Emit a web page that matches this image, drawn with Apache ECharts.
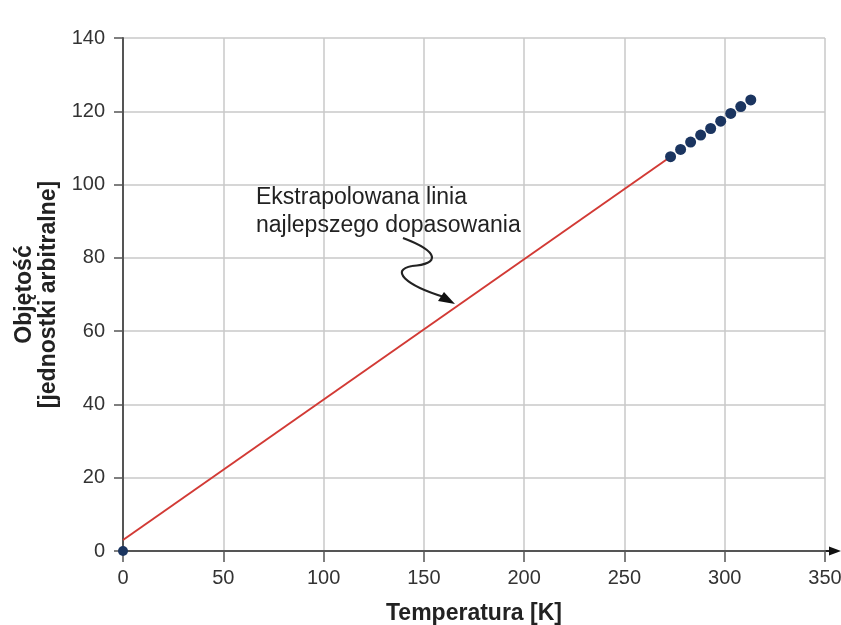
<!DOCTYPE html>
<html>
<head>
<meta charset="utf-8">
<script src="https://cdn.jsdelivr.net/npm/echarts@6/dist/echarts.min.js"></script>
<style>
html, body { margin: 0; padding: 0; background: #fff; }
#chart { width: 841px; height: 625px; }
</style>
</head>
<body>
<div id="chart"></div>
<script>
// measured points (temperature K, volume)
var temps = [273, 278, 283, 288, 293, 298, 303, 308, 313];
var volumes = [107.6, 109.6, 111.6, 113.5, 115.3, 117.3, 119.4, 121.3, 123.1];
// extrapolated fit line end points
var fitLine = [[0, 3], [273, 107.6]];
var origin = [[0, 0]];
var xTicks = [0, 50, 100, 150, 200, 250, 300, 350];
var yTicks = [0, 20, 40, 60, 80, 100, 120, 140];

var font = 'Liberation Sans';
var chart = echarts.init(document.getElementById('chart'));

var pts = [];
for (var i = 0; i < temps.length; i++) {
    pts.push([temps[i], volumes[i]]);
}

var option = {
    animation: false,
    textStyle: { fontFamily: font },
    grid: { left: 123, right: 16, top: 38, bottom: 74, containLabel: false, outerBoundsMode: 'none' },
    xAxis: {
        type: 'value', min: xTicks[0], max: xTicks[xTicks.length - 1], interval: 50,
        name: 'Temperatura [K]', nameLocation: 'middle', nameGap: 51,
        nameTextStyle: { fontSize: 23, fontWeight: 'bold', color: '#222', fontFamily: font },
        axisLine: { show: true, lineStyle: { color: '#555', width: 2 } },
        axisTick: { show: true, length: 11, lineStyle: { color: '#555', width: 1.5 } },
        axisLabel: { fontSize: 20, color: '#333', margin: 17, fontFamily: font },
        splitLine: { show: true, lineStyle: { color: '#c8c8c8', width: 1.5 } }
    },
    yAxis: {
        type: 'value', min: yTicks[0], max: yTicks[yTicks.length - 1], interval: 20,
        name: 'Objętość\n[jednostki arbitralne]', nameLocation: 'middle', nameGap: 62,
        nameRotate: 90,
        nameTextStyle: { fontSize: 23, fontWeight: 'bold', color: '#222', lineHeight: 24, fontFamily: font },
        axisLine: { show: true, lineStyle: { color: '#555', width: 2 } },
        axisTick: { show: true, length: 9, lineStyle: { color: '#555', width: 1.5 } },
        axisLabel: { fontSize: 20, color: '#333', margin: 18, fontFamily: font },
        splitLine: { show: true, lineStyle: { color: '#c8c8c8', width: 1.5 } }
    },
    series: [
        {
            type: 'line', data: fitLine, symbol: 'none',
            lineStyle: { color: '#d23a35', width: 2 }, z: 3
        },
        {
            type: 'scatter', data: pts, symbolSize: 11,
            itemStyle: { color: '#1b3560', opacity: 1 }, z: 4
        },
        {
            type: 'scatter', data: origin, symbolSize: 10,
            itemStyle: { color: '#1b3560', opacity: 1 }, z: 4
        }
    ]
};
chart.setOption(option);

// axis arrows and annotation
var top = chart.convertToPixel({ gridIndex: 0 }, [0, 140]);
var right = chart.convertToPixel({ gridIndex: 0 }, [350, 0]);
var ax = top[0], ay = top[1], bx = right[0], by = right[1];

chart.setOption({
    graphic: [
        { type: 'line', shape: { x1: ax, y1: ay, x2: ax, y2: ay - 16 }, style: { stroke: '#222', lineWidth: 2 } },
        { type: 'polygon', shape: { points: [[ax - 4.5, ay - 14], [ax + 4.5, ay - 14], [ax, ay - 27]] }, style: { fill: '#111' } },
        { type: 'line', shape: { x1: bx, y1: by, x2: bx + 6, y2: by }, style: { stroke: '#222', lineWidth: 2 } },
        { type: 'polygon', shape: { points: [[bx + 4, by - 4.5], [bx + 4, by + 4.5], [bx + 16, by]] }, style: { fill: '#111' } },
        {
            type: 'text', left: 256, top: 184,
            style: { text: 'Ekstrapolowana linia\nnajlepszego dopasowania', fontSize: 23, lineHeight: 28, fill: '#222', fontFamily: font }
        },
        {
            type: 'bezierCurve', shape: { x1: 403, y1: 238, x2: 412, y2: 266, cpx1: 440, cpy1: 252, cpx2: 440, cpy2: 264 },
            style: { stroke: '#222', lineWidth: 2.2, fill: null }
        },
        {
            type: 'bezierCurve', shape: { x1: 412, y1: 266, x2: 444, y2: 297, cpx1: 390, cpy1: 270, cpx2: 405, cpy2: 285 },
            style: { stroke: '#222', lineWidth: 2.2, fill: null }
        },
        { type: 'polygon', shape: { points: [[455, 304], [438, 301], [444, 292]] }, style: { fill: '#111' } }
    ]
});
</script>
</body>
</html>
